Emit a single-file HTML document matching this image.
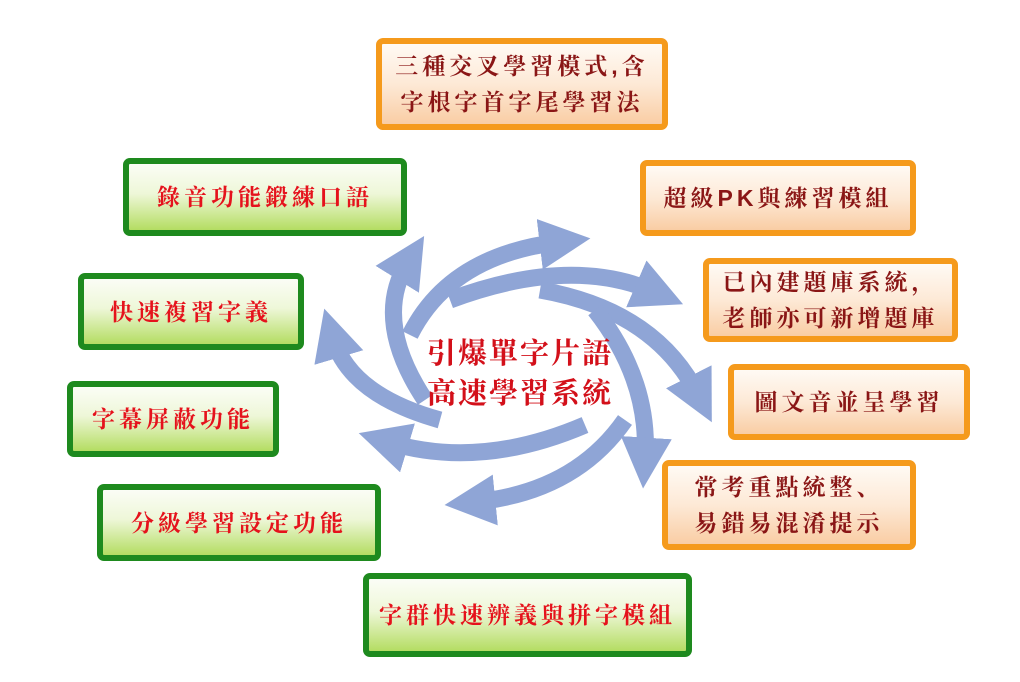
<!DOCTYPE html>
<html><head><meta charset="utf-8"><style>
body{margin:0;width:1020px;height:682px;background:#fff;position:relative;overflow:hidden;font-family:"Liberation Sans","Noto Serif CJK SC","Noto Sans CJK TC",serif;}
.b{position:absolute;box-sizing:border-box;border-radius:7px;display:flex;align-items:center;justify-content:center;text-align:center;font-weight:bold;font-size:23px;letter-spacing:4px;line-height:36px;white-space:nowrap;}
.g{border:6px solid #1e8a1e;background:linear-gradient(#fbfdf6,#eef7d8 45%,#b4dd62);color:#e5121c;}
.o{border:6px solid #f59a1c;background:linear-gradient(#fffaf4,#fde9d6 50%,#f9cda4);color:#8a1616;}
svg{position:absolute;left:0;top:0}
.c{position:absolute;left:405px;top:332px;width:230px;text-align:center;font-size:29px;font-weight:bold;line-height:40px;color:#d3101a;letter-spacing:2px;font-family:"Noto Serif CJK SC","Noto Sans CJK TC",serif;}
</style></head><body>
<svg width="1020" height="682">
<defs><marker id="a" markerWidth="3" markerHeight="3" refX="1.2" refY="1.5" orient="auto" markerUnits="strokeWidth"><path d="M0,0 L3,1.5 L0,3 z" fill="#8fa5d6"/></marker></defs>
<g fill="none" stroke="#8fa5d6" stroke-width="17" marker-end="url(#a)">
<path d="M410,335 Q450,255 560,242"/>
<path d="M450,300 Q570,255 655,292"/>
<path d="M540,290 Q655,310 698,395"/>
<path d="M595,310 Q650,380 645,458"/>
<path d="M625,420 Q575,492 475,502"/>
<path d="M585,425 Q480,470 388,442"/>
<path d="M440,420 Q350,395 333,338"/>
<path d="M425,400 Q372,320 408,262"/>
</g>
</svg>
<div class="c">引爆單字片語<br>高速學習系統</div>
<div class="b o" style="left:376px;top:38px;width:292px;height:92px">三種交叉學習模式,含<br>字根字首字尾學習法</div>
<div class="b o" style="left:640px;top:160px;width:276px;height:76px">超級PK與練習模組</div>
<div class="b o" style="left:703px;top:258px;width:255px;height:84px">已內建題庫系統，<br>老師亦可新增題庫</div>
<div class="b o" style="left:728px;top:364px;width:242px;height:76px">圖文音並呈學習</div>
<div class="b o" style="left:662px;top:460px;width:254px;height:90px">常考重點統整、<br>易錯易混淆提示</div>
<div class="b g" style="left:363px;top:573px;width:329px;height:84px">字群快速辨義與拼字模組</div>
<div class="b g" style="left:123px;top:158px;width:284px;height:78px">錄音功能鍛練口語</div>
<div class="b g" style="left:78px;top:273px;width:226px;height:77px">快速複習字義</div>
<div class="b g" style="left:67px;top:381px;width:212px;height:76px">字幕屏蔽功能</div>
<div class="b g" style="left:97px;top:484px;width:284px;height:77px">分級學習設定功能</div>
</body></html>
